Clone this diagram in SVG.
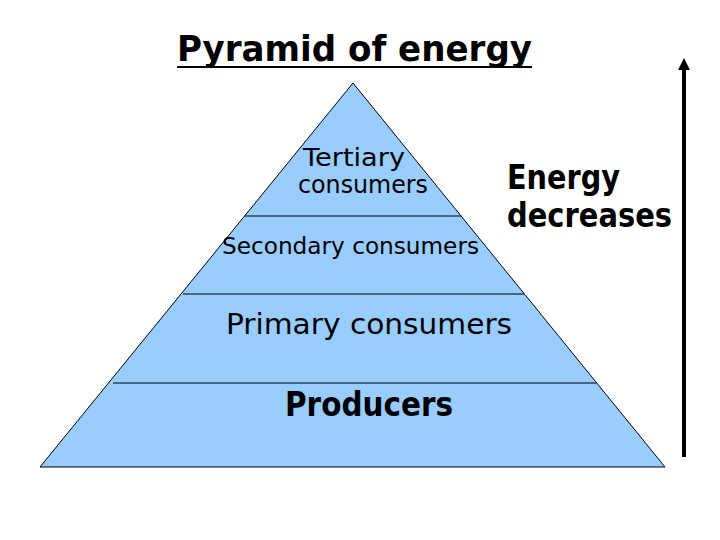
<svg xmlns="http://www.w3.org/2000/svg" width="720" height="540" viewBox="0 0 720 540">
<style>
text{font-family:"DejaVu Sans","Liberation Sans",sans-serif;fill:#000}
.lvl{fill:none;stroke:#000;stroke-width:1}
.big{font-size:33px;font-weight:bold}
</style>
<rect width="720" height="540" fill="#fff"/>
<g id="title">
<text x="177" y="61" font-size="36" font-weight="bold" textLength="355" lengthAdjust="spacingAndGlyphs">Pyramid of energy</text>
<line x1="177" y1="67" x2="532" y2="67" stroke="#000" stroke-width="2"/>
</g>
<g id="pyramid">
<polygon points="353,83 665,467 40,467" fill="#99CCFF" stroke="#000" stroke-width="1"/>
</g>
<g id="connectors">
<line class="lvl" x1="245" y1="216" x2="461" y2="216"/>
<line class="lvl" x1="183" y1="294" x2="524" y2="294"/>
<line class="lvl" x1="113" y1="383" x2="596" y2="383"/>
<line x1="684" y1="457" x2="684" y2="68" stroke="#000" stroke-width="4"/>
<polygon points="684,58 690,70 678,70" fill="#000"/>
</g>
<g id="tertiary">
<text x="303" y="166" font-size="25" textLength="102" lengthAdjust="spacingAndGlyphs">Tertiary</text>
<text x="298" y="193" font-size="25" textLength="130" lengthAdjust="spacingAndGlyphs">consumers</text>
</g>
<g id="secondary">
<text x="222" y="254" font-size="23" textLength="257" lengthAdjust="spacingAndGlyphs">Secondary consumers</text>
</g>
<g id="primary">
<text x="226" y="334" font-size="29" textLength="286" lengthAdjust="spacingAndGlyphs">Primary consumers</text>
</g>
<g id="producers">
<text x="285" y="416" font-size="33" font-weight="bold" textLength="168" lengthAdjust="spacingAndGlyphs">Producers</text>
</g>
<g id="energy">
<text class="big" x="507" y="189" textLength="113" lengthAdjust="spacingAndGlyphs">Energy</text>
<text class="big" x="507" y="227" textLength="165" lengthAdjust="spacingAndGlyphs">decreases</text>
</g>
</svg>
